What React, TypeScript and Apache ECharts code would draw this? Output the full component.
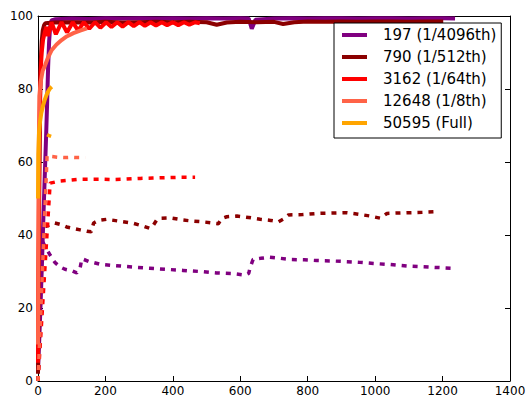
import React, { useEffect, useRef } from 'react';
import * as echarts from 'echarts';

const FONT = 'DejaVu Sans';

const seriesNames = ['197 (1/4096th)', '790 (1/512th)', '3162 (1/64th)', '12648 (1/8th)', '50595 (Full)'];
const seriesColors = ['#800080', '#8B0000', '#FF0000', '#FF6347', '#FFA500'];

// Training accuracy (solid lines): [epoch, accuracy]
const train197 = [
  [0, 3], [4, 12], [8, 22], [12, 33], [16, 45], [20, 56], [24, 67], [27, 76], [30, 86], [33, 93], [36, 97], [40, 98.8],
  [50, 99.1], [70, 99.2], [100, 99.3], [150, 99.2], [200, 99.4], [250, 99.3], [300, 99.4], [350, 99.3], [400, 99.4],
  [450, 99.3], [500, 99.4], [550, 99.3], [600, 99.4], [625, 99.3], [634, 96.5], [645, 99.0], [700, 99.3], [750, 99.4],
  [800, 99.3], [850, 99.4], [900, 99.4], [950, 99.3], [1000, 99.4], [1050, 99.4], [1100, 99.3], [1150, 99.4],
  [1200, 99.4], [1237, 99.3],
];
const train790 = [
  [0, 2], [2, 30], [4, 55], [6, 75], [8, 87], [11, 93], [14, 96], [18, 97.5], [22, 98], [30, 98.1], [50, 98.2],
  [100, 98.3], [150, 98.2], [200, 98.4], [250, 98.2], [300, 98.3], [350, 98.4], [400, 98.3], [450, 98.4], [500, 98.3],
  [530, 97.6], [560, 98.2], [600, 98.4], [650, 98.3], [700, 98.4], [727, 97.8], [760, 98.3], [800, 98.5], [850, 98.4],
  [900, 98.5], [950, 98.4], [1000, 98.5], [1050, 98.5], [1100, 98.4], [1150, 98.5], [1202, 98.5],
];
const train3162 = [
  [0, 5], [2, 40], [4, 65], [6, 78], [8, 85], [11, 90], [15, 93.5], [20, 95.5], [25, 97], [30, 94.5], [40, 98.3],
  [53, 95], [70, 98.3], [86, 95.5], [103, 98.3], [119, 96], [136, 98.3], [152, 96.5], [169, 98.3], [185, 96.8],
  [202, 98.3], [218, 97], [235, 98.3], [251, 97.1], [268, 98.3], [284, 97.2], [301, 98.3], [317, 97.3], [334, 98.3],
  [350, 97.4], [367, 98.3], [383, 97.5], [400, 98.3], [416, 97.5], [433, 98.3], [449, 97.6], [466, 98.3], [480, 98.0],
];
const train12648 = [
  [0, 10], [2, 60], [4, 78], [8, 82], [14, 85], [21, 86.5], [30, 88.7], [41, 90.7], [55, 92.2], [70, 93.4],
  [85, 94.4], [105, 95.3], [125, 96], [145, 96.6],
];
const train50595 = [
  [0, 50], [1, 62], [3, 68], [6, 71], [10, 73.5], [15, 75.5], [20, 77], [25, 78.3], [30, 79.3], [35, 80.1], [41, 80.6],
];

// Validation accuracy (dashed lines)
const val197 = [
  [0, 0], [12, 38.6], [20, 37], [36, 34.5], [50, 32.5], [65, 31.3], [80, 30.6], [100, 30.2], [115, 29.6], [125, 31],
  [130, 33.5], [150, 32.8], [184, 32], [230, 31.6], [283, 31.2], [332, 30.9], [380, 30.6], [430, 30.3], [480, 30],
  [530, 29.6], [580, 29.4], [614, 29], [625, 29.5], [629, 31], [638, 33.3], [660, 33.6], [688, 33.9], [720, 33.6],
  [748, 33.3], [790, 33.2], [827, 33], [870, 32.9], [916, 32.7], [955, 32.5], [995, 32.2], [1045, 31.9], [1094, 31.5],
  [1160, 31.2], [1229, 30.9],
];
const val790 = [
  [0, 0], [21, 42.3], [35, 42.8], [50, 43.3], [70, 42.8], [85, 42.2], [105, 41.8], [125, 41.4], [145, 41], [158, 40.9],
  [165, 43.3], [180, 44], [204, 44.3], [240, 43.8], [283, 43.2], [310, 42.5], [332, 41.8], [341, 42.5], [352, 44.1],
  [362, 44.6], [392, 44.7], [430, 44.1], [460, 43.8], [490, 43.6], [535, 43.1], [545, 44.5], [560, 45], [590, 45.2],
  [625, 44.8], [659, 44.3], [690, 44], [713, 43.6], [730, 44.5], [743, 45.5], [785, 45.6], [827, 45.9], [870, 46],
  [916, 46.1], [950, 45.7], [985, 45.2], [1015, 44.6], [1035, 45.9], [1060, 46], [1094, 46.1], [1140, 46.2], [1187, 46.4],
];
const val3162 = [
  [0, 0], [36, 54.2], [50, 54.5], [65, 54.8], [90, 55], [125, 55.3], [155, 55.3], [184, 55.3], [220, 55.2], [260, 55.3],
  [303, 55.5], [340, 55.6], [380, 55.7], [421, 55.8], [466, 55.8],
];
const val12648 = [
  [0, 0], [27, 61.8], [40, 61.5], [60, 61.3], [80, 61.2], [100, 61.3], [120, 61.2], [140, 61.2],
];
const val50595 = [[27, 67.5], [33, 67.2], [39, 67]];

const trainSets = [train197, train790, train3162, train12648, train50595];
const valSets = [val197, val790, val3162, val12648, val50595];

const X_MIN = 0, X_MAX = 1400, X_STEP = 200;
const Y_MIN = 0, Y_MAX = 100, Y_STEP = 20;

function buildOption() {
  const series: any[] = [];
  seriesNames.forEach((name, i) => {
    series.push({
      name,
      type: 'line',
      data: trainSets[i],
      showSymbol: false,
      symbol: 'none',
      color: seriesColors[i],
      lineStyle: { color: seriesColors[i], width: 4 },
      itemStyle: { color: seriesColors[i] },
      z: 2 + i * 2,
    });
    series.push({
      name,
      type: 'line',
      data: valSets[i],
      showSymbol: false,
      symbol: 'none',
      color: seriesColors[i],
      lineStyle: { color: seriesColors[i], width: 3.5, type: [5, 6] },
      itemStyle: { color: seriesColors[i] },
      z: 3 + i * 2,
    });
  });

  const axisCommon = {
    type: 'value',
    splitLine: { show: false },
    axisLine: { show: true, onZero: false, lineStyle: { color: '#000', width: 1 } },
    axisTick: { show: true, inside: true, length: 5, lineStyle: { color: '#000', width: 1 } },
  };
  const plain = (v: number) => String(v);

  return {
    animation: false,
    backgroundColor: '#fff',
    textStyle: { fontFamily: FONT },
    grid: { left: 38, right: 16, top: 16, bottom: 17, outerBoundsMode: 'none', containLabel: false },
    xAxis: [
      {
        ...axisCommon,
        min: X_MIN, max: X_MAX, interval: X_STEP, position: 'bottom',
        axisLabel: { color: '#000', fontSize: 12, fontFamily: FONT, margin: 4, formatter: plain },
      },
      {
        ...axisCommon,
        min: X_MIN, max: X_MAX, interval: X_STEP, position: 'top',
        axisLabel: { show: false },
      },
    ],
    yAxis: [
      {
        ...axisCommon,
        min: Y_MIN, max: Y_MAX, interval: Y_STEP, position: 'left',
        axisLabel: { color: '#000', fontSize: 12, fontFamily: FONT, margin: 5, formatter: plain },
      },
      {
        ...axisCommon,
        min: Y_MIN, max: Y_MAX, interval: Y_STEP, position: 'right',
        axisLabel: { show: false },
      },
    ],
    legend: {
      data: seriesNames,
      orient: 'vertical',
      left: 334,
      top: 23,
      icon: 'rect',
      itemWidth: 25,
      itemHeight: 4,
      itemGap: 4,
      padding: [3, 5, 6, 8],
      backgroundColor: '#fff',
      borderColor: '#000',
      borderWidth: 1,
      borderRadius: 0,
      itemStyle: { borderWidth: 0 },
      textStyle: { color: '#000', fontSize: 15, fontFamily: FONT, lineHeight: 18, padding: [0, 0, 0, 11] },
      selectedMode: false,
      z: 10,
    },
    series,
  };
}

export default function App() {
  const ref = useRef<HTMLDivElement>(null);
  useEffect(() => {
    if (!ref.current) return;
    const chart = echarts.init(ref.current, undefined, { renderer: 'svg' });
    chart.setOption(buildOption() as any);
    return () => chart.dispose();
  }, []);
  return <div ref={ref} style={{ position: 'fixed', left: 0, top: 0, width: 526, height: 398 }} />;
}
